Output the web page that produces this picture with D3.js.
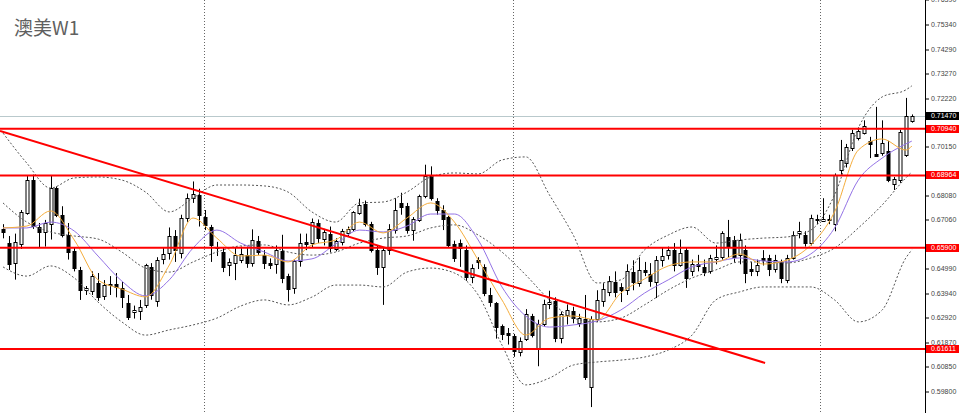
<!DOCTYPE html>
<meta charset="utf-8">
<style>
html, body { margin: 0; padding: 0; background: #fff; }
svg { display: block; }
</style>
<body>
<script src="https://d3js.org/d3.v7.min.js"></script>
<script>

var width = 960,
    height = 413,
    plotRight = 925;

// weekly candles, oldest first
var opens = [
  .6668,.6610,.6525,.6605,.6738,.6877,.6678,.6657,.6690,.6843,
  .6728,.6644,.6577,.6496,.6410,.6407,.6441,.6386,.6430,.6438,
  .6420,.6356,.6318,.6322,.6348,.6510,.6365,.6545,.6570,.6640,
  .6568,.6716,.6801,.6814,.6720,.6678,.6595,.6572,.6517,.6528,
  .6540,.6560,.6525,.6618,.6560,.6525,.6520,.6575,.6470,.6420,
  .6535,.6615,.6610,.6695,.6625,.6650,.6585,.6615,.6650,.6668,
  .6740,.6775,.6690,.6580,.6510,.6580,.6665,.6780,.6765,.6665,
  .6710,.6812,.6898,.6790,.6750,.6720,.6605,.6610,.6580,.6465,
  .6540,.6508,.6390,.6356,.6259,.6228,.6215,.6150,.6205,.6300,
  .6160,.6265,.6352,.6365,.6210,.6305,.6320,.6270,.6290,.6000,
  .6290,.6365,.6405,.6445,.6425,.6411,.6487,.6440,.6496,.6480,
  .6445,.6540,.6560,.6580,.6517,.6580,.6490,.6520,.6510,.6490,
  .6545,.6550,.6636,.6623,.6560,.6581,.6500,.6490,.6545,.6545,
  .6500,.6530,.6455,.6547,.6650,.6644,.6610,.6708,.6705,.6705,
  .6690,.6920,.6950,.7013,.7055,.7077,.7043,.6987,.6992,.7000,
  .6860,.6877,.6985,.7125
];
var highs = [
  .6690,.6640,.6650,.6750,.6894,.6900,.6695,.6708,.6895,.6850,
  .6766,.6695,.6593,.6509,.6428,.6490,.6483,.6453,.6470,.6483,
  .6445,.6390,.6345,.6369,.6522,.6525,.6550,.6590,.6676,.6665,
  .6730,.6820,.6871,.6840,.6750,.6687,.6615,.6590,.6545,.6590,
  .6595,.6595,.6668,.6640,.6580,.6545,.6600,.6645,.6480,.6540,
  .6650,.6650,.6714,.6710,.6670,.6680,.6630,.6670,.6680,.6745,
  .6798,.6790,.6700,.6600,.6590,.6690,.6800,.6823,.6780,.6720,
  .6815,.6942,.6935,.6800,.6770,.6725,.6620,.6625,.6600,.6520,
  .6550,.6520,.6420,.6360,.6265,.6250,.6225,.6210,.6330,.6310,
  .6285,.6370,.6408,.6380,.6320,.6350,.6340,.6310,.6390,.6300,
  .6410,.6440,.6470,.6490,.6440,.6520,.6537,.6550,.6530,.6525,
  .6555,.6590,.6595,.6610,.6625,.6590,.6540,.6560,.6540,.6560,
  .6600,.6660,.6708,.6640,.6650,.6600,.6530,.6540,.6580,.6560,
  .6560,.6540,.6560,.6660,.6700,.6660,.6730,.6730,.6800,.6730,
  .6905,.7047,.7030,.7090,.7100,.7130,.7060,.7187,.7130,.7043,
  .6890,.7090,.7225,.7155
];
var lows = [
  .6630,.6496,.6455,.6585,.6730,.6670,.6593,.6595,.6625,.6720,
  .6634,.6540,.6490,.6369,.6390,.6390,.6365,.6369,.6390,.6380,
  .6335,.6284,.6290,.6284,.6335,.6370,.6340,.6520,.6540,.6530,
  .6545,.6700,.6780,.6680,.6665,.6530,.6555,.6487,.6470,.6453,
  .6525,.6505,.6510,.6560,.6500,.6500,.6480,.6440,.6362,.6395,
  .6510,.6580,.6590,.6610,.6600,.6570,.6575,.6600,.6640,.6660,
  .6730,.6680,.6570,.6475,.6348,.6560,.6650,.6730,.6650,.6620,
  .6700,.6800,.6790,.6730,.6665,.6590,.6530,.6509,.6450,.6440,
  .6500,.6385,.6340,.6205,.6199,.6180,.6128,.6130,.6195,.6210,
  .6088,.6255,.6330,.6190,.6185,.6265,.6270,.6255,.6030,.5915,
  .6275,.6340,.6385,.6380,.6360,.6390,.6410,.6425,.6470,.6425,
  .6377,.6510,.6540,.6490,.6510,.6420,.6470,.6490,.6470,.6480,
  .6520,.6540,.6550,.6530,.6520,.6440,.6470,.6470,.6515,.6470,
  .6485,.6440,.6440,.6540,.6630,.6595,.6600,.6690,.6700,.6690,
  .6660,.6900,.6930,.7000,.7045,.7070,.6970,.6975,.6980,.6868,
  .6835,.6865,.6975,.7120
];
var closes = [
  .6655,.6520,.6615,.6742,.6877,.6682,.6657,.6695,.6843,.6728,
  .6644,.6572,.6504,.6411,.6418,.6470,.6382,.6432,.6436,.6425,
  .6381,.6297,.6326,.6339,.6517,.6390,.6540,.6565,.6640,.6580,
  .6716,.6801,.6818,.6729,.6687,.6602,.6590,.6509,.6530,.6560,
  .6565,.6525,.6623,.6572,.6525,.6518,.6580,.6460,.6415,.6535,
  .6610,.6605,.6700,.6630,.6655,.6590,.6620,.6660,.6668,.6740,
  .6772,.6690,.6580,.6510,.6580,.6670,.6750,.6765,.6665,.6710,
  .6810,.6895,.6800,.6750,.6710,.6602,.6545,.6590,.6465,.6505,
  .6530,.6397,.6360,.6254,.6225,.6220,.6150,.6195,.6310,.6220,
  .6265,.6350,.6360,.6210,.6310,.6325,.6290,.6292,.6045,.6290,
  .6370,.6415,.6450,.6403,.6411,.6490,.6445,.6496,.6488,.6450,
  .6540,.6555,.6580,.6515,.6568,.6462,.6520,.6510,.6490,.6547,
  .6552,.6653,.6598,.6551,.6623,.6483,.6493,.6517,.6538,.6500,
  .6538,.6462,.6547,.6644,.6660,.6610,.6717,.6712,.6712,.6710,
  .6898,.6962,.7017,.7076,.7085,.7106,.7030,.6979,.7034,.6877,
  .6880,.7081,.7150,.7147
];

// indicator readings, taken every 4th bar
var lineBars = [0,4,8,12,16,20,24,28,32,36,40,44,48,52,56,60,64,68,72,76,
                80,84,88,92,96,100,104,108,112,116,120,124,128,132,136,140,144,148,152,153];
var maFast = [.6674,.6682,.6746,.6623,.6454,.6415,.6382,.6517,.6716,.6631,
              .6555,.6559,.6530,.6602,.6623,.6699,.6653,.6716,.6780,.6699,
              .6538,.6369,.6220,.6292,.6301,.6284,.6398,.6458,.6513,.6530,
              .6530,.6564,.6521,.6538,.6602,.6742,.7004,.7051,.7004,.7021];
var maSlow = [.6674,.6674,.6699,.6661,.6555,.6449,.6386,.6454,.6589,.6665,
              .6610,.6572,.6534,.6543,.6606,.6665,.6657,.6682,.6733,.6733,
              .6623,.6424,.6301,.6254,.6263,.6280,.6326,.6398,.6454,.6509,
              .6530,.6547,.6534,.6530,.6564,.6674,.6877,.6970,.7030,.7042];
var bbUpper = [.7076,.6949,.6843,.6886,.6890,.6877,.6826,.6742,.6801,.6856,
               .6856,.6852,.6826,.6742,.6699,.6780,.6784,.6826,.6890,.6907,
               .6903,.6962,.6975,.6814,.6644,.6441,.6454,.6581,.6644,.6678,
               .6610,.6623,.6631,.6636,.6665,.6814,.7098,.7229,.7259,.7276];
var bbMiddle = [.6780,.6699,.6657,.6640,.6627,.6572,.6504,.6487,.6530,.6572,
                .6598,.6602,.6572,.6559,.6572,.6610,.6631,.6640,.6674,.6687,
                .6644,.6572,.6475,.6369,.6292,.6276,.6292,.6348,.6411,.6462,
                .6496,.6530,.6530,.6526,.6547,.6589,.6674,.6771,.6886,.6911];
var bbLower = [.6509,.6470,.6513,.6462,.6360,.6276,.6220,.6242,.6263,.6292,
               .6343,.6369,.6348,.6381,.6432,.6432,.6424,.6487,.6504,.6483,
               .6390,.6178,.6009,.6038,.6093,.6106,.6114,.6127,.6157,.6220,
               .6369,.6403,.6424,.6424,.6424,.6369,.6276,.6326,.6547,.6581];

var levels = [0.70940, 0.68964, 0.65900, 0.61611];
var lastPrice = 0.71470;
var trendBars = [-0.5, 128.3];
var trendPrices = [0.7085, 0.6102];
var gridBars = [33.8, 85.9, 137.6];
// labels that are not hidden behind the price boxes
var tickLabels = ["0.76390","0.75340","0.74290","0.73270","0.72220","0.70150",
                  "0.68080","0.67060","0.64990","0.63940","0.62920",
                  "0.61870","0.60850","0.59800"];

var n = closes.length;
var x = d3.scaleLinear().domain([0, n - 1]).range([3, 911.8]);
var y = d3.scaleLinear().domain([0.58899, 0.76399]).range([height, 0]);

var svg = d3.select("body").append("svg")
    .attr("width", width)
    .attr("height", height)
    .style("font-family", "'Liberation Sans', Arial, sans-serif");

svg.append("defs").append("clipPath").attr("id", "plot")
  .append("rect").attr("width", plotRight).attr("height", height);

var plot = svg.append("g").attr("clip-path", "url(#plot)");

// year separators
plot.append("g").selectAll("line")
  .data(gridBars)
  .enter().append("line")
  .attr("x1", function(d){ return Math.round(x(d)) + 0.5; })
  .attr("x2", function(d){ return Math.round(x(d)) + 0.5; })
  .attr("y1", 0).attr("y2", height)
  .attr("stroke", "#666")
  .attr("stroke-dasharray", "1,2");

// current price line
plot.append("line")
  .attr("x1", 0).attr("x2", plotRight)
  .attr("y1", Math.round(y(lastPrice)) + 0.5).attr("y2", Math.round(y(lastPrice)) + 0.5)
  .attr("stroke", "#b9c9cc");

var bars = d3.range(n);

var candles = plot.append("g").selectAll("g")
  .data(bars)
  .enter().append("g");

candles.append("line")
  .attr("x1", function(i){ return Math.round(x(i)) + 0.5; })
  .attr("x2", function(i){ return Math.round(x(i)) + 0.5; })
  .attr("y1", function(i){ return y(highs[i]); })
  .attr("y2", function(i){ return y(lows[i]); })
  .attr("stroke", "#000");

candles.append("rect")
  .attr("x", function(i){ return Math.round(x(i)) - 1; })
  .attr("width", 3)
  .attr("y", function(i){ return Math.round(y(Math.max(opens[i], closes[i]))) + 0.5; })
  .attr("height", function(i){ return Math.max(1, Math.round(Math.abs(y(opens[i]) - y(closes[i])))); })
  .attr("fill", function(i){ return closes[i] >= opens[i] ? "#fff" : "#000"; })
  .attr("stroke", "#000");

function series(vals){
  return lineBars.map(function(b, k){ return [b, vals[k]]; });
}

var line = d3.line()
  .x(function(d){ return x(d[0]); })
  .y(function(d){ return y(d[1]); })
  .curve(d3.curveMonotoneX);

[bbUpper, bbMiddle, bbLower].forEach(function(vals){
  plot.append("path")
    .datum(series(vals))
    .attr("fill", "none")
    .attr("stroke", "#555")
    .attr("stroke-dasharray", "2,2")
    .attr("d", line);
});

plot.append("path")
  .datum(series(maSlow))
  .attr("fill", "none")
  .attr("stroke", "#9473e6")
  .attr("d", line);

plot.append("path")
  .datum(series(maFast))
  .attr("fill", "none")
  .attr("stroke", "#f5ad3c")
  .attr("d", line);

// horizontal levels and the trendline
plot.append("g").selectAll("line")
  .data(levels)
  .enter().append("line")
  .attr("x1", 0).attr("x2", plotRight)
  .attr("y1", function(d){ return y(d); })
  .attr("y2", function(d){ return y(d); })
  .attr("stroke", "#ff0000")
  .attr("stroke-width", 2);

plot.append("line")
  .attr("x1", x(trendBars[0])).attr("y1", y(trendPrices[0]))
  .attr("x2", x(trendBars[1])).attr("y2", y(trendPrices[1]))
  .attr("stroke", "#ff0000")
  .attr("stroke-width", 2);

// price axis
var axis = svg.append("g");
axis.append("line")
  .attr("x1", plotRight + 0.5).attr("x2", plotRight + 0.5)
  .attr("y1", 0).attr("y2", height)
  .attr("stroke", "#000");

var ticks = axis.selectAll("g.tick")
  .data(tickLabels)
  .enter().append("g")
  .attr("class", "tick")
  .attr("transform", function(d){ return "translate(0," + Math.round(y(+d)) + ")"; });
ticks.append("line")
  .attr("x1", plotRight).attr("x2", plotRight + 4)
  .attr("stroke", "#000");
ticks.append("text")
  .attr("x", plotRight + 6)
  .attr("dy", "0.35em")
  .attr("font-size", 7)
  .attr("fill", "#444")
  .text(function(d){ return d; });

function priceBox(value, bg){
  var g = axis.append("g")
    .attr("transform", "translate(0," + Math.round(y(value)) + ")");
  g.append("rect")
    .attr("x", plotRight + 1).attr("y", -4)
    .attr("width", 33).attr("height", 8)
    .attr("fill", bg);
  g.append("text")
    .attr("x", plotRight + 6)
    .attr("dy", "0.35em")
    .attr("font-size", 7)
    .attr("fill", "#fff")
    .text(value.toFixed(5));
}
levels.forEach(function(v){ priceBox(v, "#ff0000"); });
priceBox(lastPrice, "#000");

svg.append("text")
  .attr("x", 14).attr("y", 35)
  .attr("font-family", "'Noto Sans CJK SC', sans-serif")
  .attr("font-size", 19)
  .attr("fill", "#606060")
  .text("澳美W1");

</script>
</body>
